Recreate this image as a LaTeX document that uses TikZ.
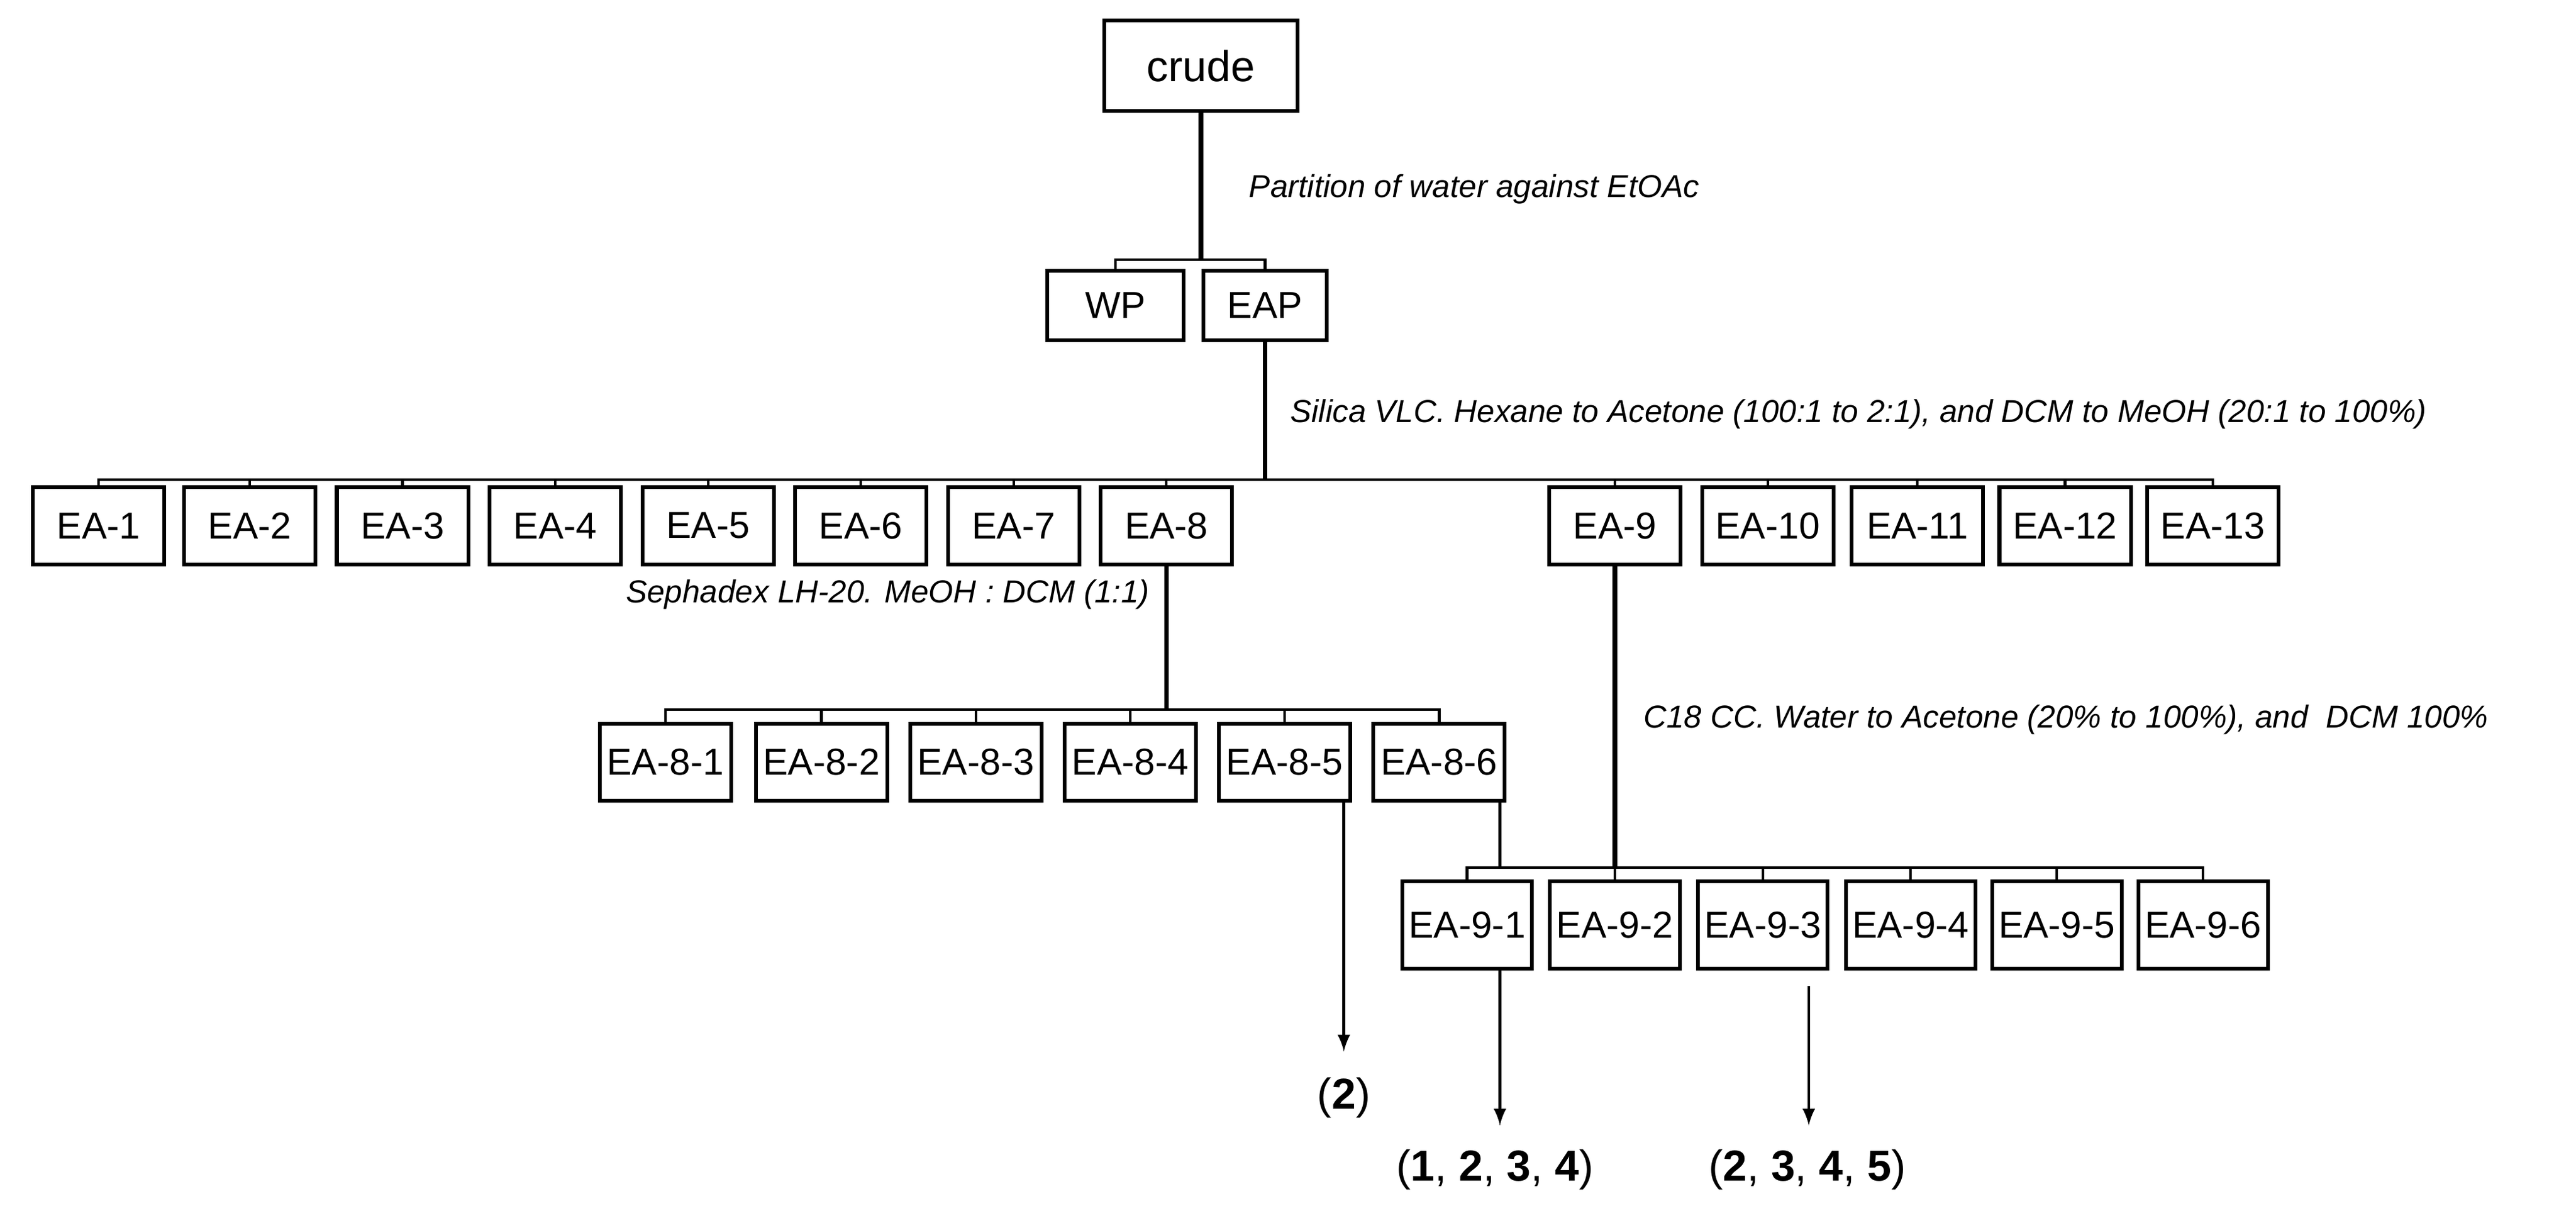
\documentclass[tikz,border=0pt]{standalone}
\usepackage{fontspec}
\setmainfont{Liberation Sans}
\usetikzlibrary{arrows,positioning}

\begin{document}
\begin{tikzpicture}[
    x=0.02cm, y=-0.02cm,
    box/.style={rectangle, draw, line width=1.3pt, inner sep=0pt, minimum width=1.6cm, minimum height=0.94cm, font=\fontsize{13}{15}\selectfont},
    note/.style={font=\fontsize{11}{13}\selectfont\itshape, inner sep=0pt},
    res/.style={font=\fontsize{15}{17}\selectfont, inner sep=0pt},
    trunk/.style={line width=1.6pt},
    bar/.style={line width=0.9pt},
    arrow/.style={->, >=latex, line width=1pt}
]
\useasboundingbox (0,0) rectangle (1568,734);

% Top - crude and partition
\node[box, minimum width=2.36cm, minimum height=1.1cm, font=\fontsize{15}{17}\selectfont] (crude) at (731,40) {crude};
\node[box, minimum width=1.66cm, minimum height=0.84cm] (wp) at (679,186) {WP};
\node[box, minimum width=1.5cm, minimum height=0.84cm] (eap) at (770,186) {EAP};
\coordinate (split0) at (731,158);
\draw[trunk] (crude.south) -- (split0);
\draw[bar] (wp.north) |- (split0) -| (eap.north);
\node[note, anchor=west] at (760,115) {Partition of water against EtOAc};

% Silica VLC fractions
\foreach \i/\x in {1/60,2/152,3/245,4/338,5/431,6/524,7/617,8/710,9/983,10/1076,11/1167,12/1257,13/1347}
    \node[box] (ea\i) at (\x,320) {EA-\i};
\coordinate (split1) at (770,292);
\draw[trunk] (eap.south) -- (split1);
\draw[bar] (ea1.north) |- (split1) -| (ea13.north);
\foreach \i in {2,...,12}
    \draw[bar] (ea\i.north) -- (ea\i.north |- split1);
\node[note, anchor=west] at (785,252) {Silica VLC. Hexane to Acetone (100:1 to 2:1), and DCM to MeOH (20:1 to 100\%)};

% Sephadex - EA-8
\foreach \i/\x in {1/405,2/500,3/594,4/688,5/782,6/876}
    \node[box] (ea8-\i) at (\x,464) {EA-8-\i};
\coordinate (split2) at (710,432);
\draw[trunk] (ea8.south) -- (split2);
\draw[bar] (ea8-1.north) |- (split2) -| (ea8-6.north);
\foreach \i in {2,...,5}
    \draw[bar] (ea8-\i.north) -- (ea8-\i.north |- split2);
\node[note, anchor=east] at (700,362) {Sephadex LH-20. MeOH : DCM (1:1)};

% C18 - EA-9
\foreach \i/\x in {1/893,2/983,3/1073,4/1163,5/1252,6/1341}
    \node[box, minimum width=1.58cm, minimum height=1.06cm] (ea9-\i) at (\x,563) {EA-9-\i};
\coordinate (split3) at (983,528);
\coordinate (join) at (913,528);
\draw[trunk] (ea9.south) -- (split3);
\draw[bar] (ea9-1.north) |- (split3) -| (ea9-6.north);
\foreach \i in {2,...,5}
    \draw[bar] (ea9-\i.north) -- (ea9-\i.north |- split3);
\draw[bar] (ea8-6.south -| join) -- (join);
\node[note, anchor=west] at (1000,438) {C18 CC. Water to Acetone (20\% to 100\%), and\ \ DCM 100\%};

% Compounds
\node[res] (c1) at (818,668) {(\textbf{2})};
\node[res] (c2) at (910,712) {(\textbf{1}, \textbf{2}, \textbf{3}, \textbf{4})};
\node[res] (c3) at (1100,712) {(\textbf{2}, \textbf{3}, \textbf{4}, \textbf{5})};
\coordinate (t1) at (818,487);
\coordinate (t2) at (913,590);
\coordinate (t3) at (1101,600);
\draw[arrow] (t1) -- ++(0,153);
\draw[arrow] (t2) -- ++(0,95);
\draw[arrow] (t3) -- ++(0,85);

\end{tikzpicture}
\end{document}
